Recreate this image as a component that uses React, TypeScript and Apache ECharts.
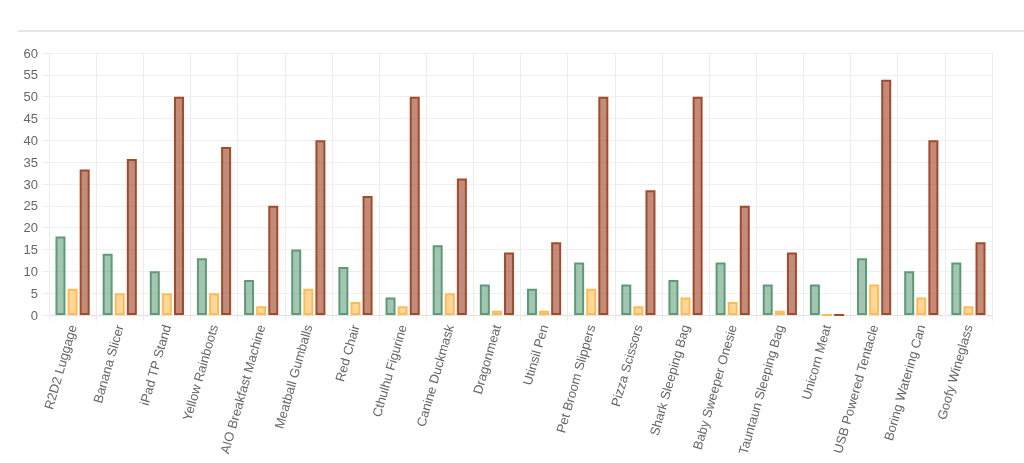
import React, { useEffect, useRef } from "react";
import * as echarts from "echarts";

const categories = [
  "R2D2 Luggage", "Banana Slicer", "iPad TP Stand", "Yellow Rainboots", "AIO Breakfast Machine",
  "Meatball Gumballs", "Red Chair", "Cthulhu Figurine", "Canine Duckmask", "Dragonmeat",
  "Utinsil Pen", "Pet Broom Slippers", "Pizza Scissors", "Shark Sleeping Bag", "Baby Sweeper Onesie",
  "Tauntaun Sleeping Bag", "Unicorn Meat", "USB Powered Tentacle", "Boring Watering Can", "Goofy Wineglass",
];
const greenValues = [18, 14, 10, 13, 8, 15, 11, 4, 16, 7, 6, 12, 7, 8, 12, 7, 7, 13, 10, 12];
const yellowValues = [6, 5, 5, 5, 2, 6, 3, 2, 5, 1, 1, 6, 2, 4, 3, 1, 0, 7, 4, 2];
const redValues = [33.33, 35.71, 50, 38.46, 25, 40, 27.27, 50, 31.25, 14.29, 16.67, 50, 28.57, 50, 25, 14.29, 0, 53.85, 40, 16.67];

const FONT = "'Liberation Sans', Arial, Helvetica, sans-serif";
const GRID = "#ececec";

export default function App() {
  const ref = useRef<HTMLDivElement>(null);
  useEffect(() => {
    if (!ref.current) return;
    const chart = echarts.init(ref.current, undefined, { renderer: "svg" });
    const mk = (name: string, data: number[], fill: string, border: string) => ({
      name,
      type: "bar",
      data,
      barWidth: 10,
      barGap: "21%",
      itemStyle: { color: fill, borderColor: border, borderWidth: 2 },
    });
    chart.setOption({
      animation: false,
      textStyle: { fontFamily: FONT },
      graphic: [
        {
          type: "line",
          shape: { x1: 18, y1: 31, x2: 1024, y2: 31 },
          style: { stroke: "#e6e6e6", lineWidth: 2 },
        },
      ],
      grid: { left: 49, right: 32, top: 53, bottom: 148 },
      xAxis: {
        type: "category",
        data: categories,
        boundaryGap: true,
        axisLine: { show: true, lineStyle: { color: "#e2e2e2", width: 1 } },
        axisTick: { show: true, length: 6, lineStyle: { color: GRID } },
        splitLine: { show: true, lineStyle: { color: GRID, width: 1 } },
        axisLabel: {
          rotate: 74,
          interval: 0,
          margin: 10,
          color: "#666",
          fontSize: 13,
          fontFamily: FONT,
        },
      },
      yAxis: {
        type: "value",
        min: 0,
        max: 60,
        interval: 5,
        axisLine: { show: true, lineStyle: { color: GRID } },
        axisTick: { show: true, length: 6, lineStyle: { color: GRID } },
        splitLine: { show: true, lineStyle: { color: "#f0f0f0" } },
        axisLabel: { color: "#666", fontSize: 13, margin: 11, fontFamily: FONT },
      },
      series: [
        mk("Green", greenValues, "rgba(100,160,125,0.6)", "#5e9a77"),
        mk("Yellow", yellowValues, "rgba(255,200,110,0.7)", "#ffbb55"),
        mk("Red", redValues, "rgba(160,80,50,0.65)", "#a34a2c"),
      ],
    });
    return () => chart.dispose();
  }, []);
  return <div ref={ref} style={{ position: "fixed", left: 0, top: 0, width: 1024, height: 463 }} />;
}
